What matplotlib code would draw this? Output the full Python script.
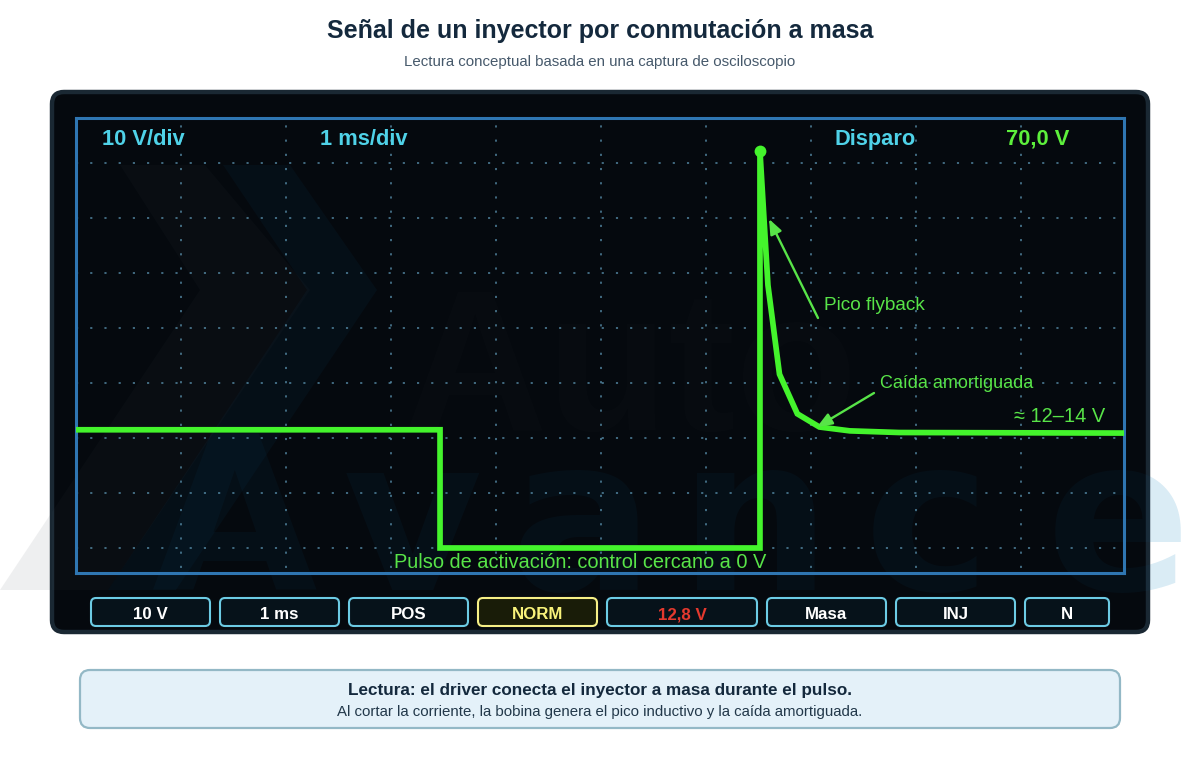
import matplotlib
matplotlib.use("Agg")
import matplotlib.pyplot as plt
from matplotlib.patches import FancyBboxPatch, Polygon

plt.rcParams['font.family'] = ['Liberation Sans', 'DejaVu Sans']

# ===== DATOS =====
time_ms = [0, 3.467, 3.467, 6.514, 6.514, 6.59, 6.70, 6.87, 7.08, 7.37, 7.84, 9.981]
volts = [21.5, 21.5, 0, 0, 72.2, 47.8, 31.6, 24.4, 22.0, 21.3, 21.0, 20.9]
grid_ms = [1, 2, 3, 4, 5, 6, 7, 8, 9]
grid_v = [0, 10, 20, 30, 40, 50, 60, 70]
button_labels = ["10 V", "1 ms", "POS", "NORM", "12,8 V", "Masa", "INJ", "N"]
watermark_letters = ["A", "v", "a", "n", "c", "e"]

GREEN = "#44f42c"
LABEL_GREEN = "#58e448"
CYAN = "#4fd2e8"

fig = plt.figure(figsize=(12, 7.6), dpi=100)

# ejes en pixeles para el marco, botones y textos
ax = fig.add_axes([0, 0, 1, 1])
ax.set_xlim(0, 1200)
ax.set_ylim(760, 0)
ax.axis("off")

ax.text(600, 31, "Señal de un inyector por conmutación a masa", ha="center", va="center",
        fontsize=18.0, fontweight="bold", color="#14293d")
ax.text(600, 62, "Lectura conceptual basada en una captura de osciloscopio", ha="center", va="center",
        fontsize=10.85, color="#46596b")

# ===== PANEL =====
panel = FancyBboxPatch((52, 92), 1096, 540, boxstyle="round,pad=0,rounding_size=12",
                       fc="#05090e", ec="#1a2833", lw=3.2, zorder=1)
ax.add_patch(panel)


# ===== MARCA DE AGUA =====
# una copia bajo el panel (se ve sobre blanco) y otra muy tenue recortada al panel
def draw_watermark(scale, zorder, clip):
    items = [
        Polygon([(120, 165), (205, 165), (310, 290), (108, 590), (0, 590), (200, 290)],
                fc="#5a6470", alpha=0.10 * scale, ec="none", zorder=zorder),
        Polygon([(223, 165), (290, 165), (377, 290), (176, 590), (108, 590), (307, 290)],
                fc="#0a80c0", alpha=0.10 * scale, ec="none", zorder=zorder),
    ]
    for item in items:
        ax.add_patch(item)
    letter_x = [235, 412, 582, 755, 927, 1118]
    for ch, x in zip(watermark_letters, letter_x):
        items.append(ax.text(x, 590, ch, ha="center", va="baseline", fontsize=154, fontweight="bold",
                             family="DejaVu Sans", color="#0a80c0", alpha=0.10 * scale, zorder=zorder))
    if clip:
        for item in items:
            item.set_clip_path(panel)


draw_watermark(1.0, 0, False)
draw_watermark(0.5, 2, True)
ax.text(630, 430, "Auto", ha="center", va="baseline", fontsize=144, fontweight="bold",
        color="#8a97a5", alpha=0.02, zorder=2)

# pantalla: 105 px por ms, 5.5 px por voltio
scope = fig.add_axes([76 / 1200, 1 - 573 / 760, 1048 / 1200, 455 / 760], zorder=3)
scope.set_xlim(0, 9.981)
scope.set_ylim(-4.55, 78.2)
scope.patch.set_alpha(0)
scope.set_xticks([])
scope.set_yticks([])
for s in scope.spines.values():
    s.set_color("#2f76b2")
    s.set_linewidth(2.2)

for v in grid_v:
    scope.axhline(v, color="#5f9ab8", lw=1.1, ls=(0, (1.4, 7.9)), alpha=0.85, zorder=1)
for t in grid_ms:
    scope.axvline(t, color="#5f9ab8", lw=1.1, ls=(6, (1.4, 7.9)), alpha=0.85, zorder=1)

# traza
scope.plot(time_ms, volts, color=GREEN, lw=4.1, solid_joinstyle="miter", zorder=3)
scope.plot(time_ms[4], volts[4], "o", color=GREEN, ms=8.5, mew=0, zorder=4)

# ===== ETIQUETAS DE LA PANTALLA =====
overlay = fig.add_axes([0, 0, 1, 1], zorder=4)
overlay.set_xlim(0, 1200)
overlay.set_ylim(760, 0)
overlay.axis("off")

top_font = dict(fontsize=15.75, fontweight="bold", va="baseline", zorder=5)
overlay.text(102, 145, "10 V/div", color=CYAN, **top_font)
overlay.text(320, 145, "1 ms/div", color=CYAN, **top_font)
overlay.text(835, 145, "Disparo", color=CYAN, **top_font)
overlay.text(1006, 145, "70,0 V", color="#5df03c", **top_font)

overlay.text(824, 310, "Pico flyback", fontsize=13.65, va="baseline", color=LABEL_GREEN)
overlay.text(880, 388, "Caída amortiguada", fontsize=13.0, va="baseline", color=LABEL_GREEN)
overlay.text(1014, 422, "≈ 12–14 V", fontsize=14.4, va="baseline", color=LABEL_GREEN)
overlay.text(580, 568, "Pulso de activación: control cercano a 0 V", ha="center", fontsize=14.4,
             va="baseline", color=LABEL_GREEN)

arrow = dict(arrowstyle="-|>,head_width=0.36,head_length=0.9", color=LABEL_GREEN, lw=1.7, shrinkA=0, shrinkB=0)
overlay.annotate("", xy=(769, 219), xytext=(818, 318), arrowprops=arrow)
overlay.annotate("", xy=(817, 427), xytext=(874, 393), arrowprops=arrow)

# ===== BOTONES =====
button_left = [91, 220, 349, 478, 607, 767, 896, 1025]
button_right = [210, 339, 468, 597, 757, 886, 1015, 1109]
for i, label in enumerate(button_labels):
    fc, ec, tc = "#06121a", "#6ccbe4", "white"
    if label == "NORM":
        fc, ec, tc = "#191c08", "#f6ef86", "#f8f27a"
    if label == "12,8 V":
        tc = "#e4392e"
    ax.add_patch(FancyBboxPatch((button_left[i], 598), button_right[i] - button_left[i], 28,
                                boxstyle="round,pad=0,rounding_size=5", fc=fc, ec=ec, lw=1.5, zorder=5))
    ax.text((button_left[i] + button_right[i]) / 2, 619, label, ha="center", va="baseline",
            fontsize=12.2, fontweight="bold", color=tc, zorder=6)

# ===== CUADRO DE LECTURA =====
ax.add_patch(FancyBboxPatch((80, 670), 1040, 58, boxstyle="round,pad=0,rounding_size=10",
                            fc="#e4f1f9", ec="#93b8c6", lw=1.6, zorder=1))
ax.text(600, 690, "Lectura: el driver conecta el inyector a masa durante el pulso.", ha="center",
        va="center", fontsize=12.3, fontweight="bold", color="#14293d")
ax.text(600, 712, "Al cortar la corriente, la bobina genera el pico inductivo y la caída amortiguada.",
        ha="center", va="center", fontsize=10.8, color="#22384a")

plt.savefig("out.png", dpi=100)
plt.close()
